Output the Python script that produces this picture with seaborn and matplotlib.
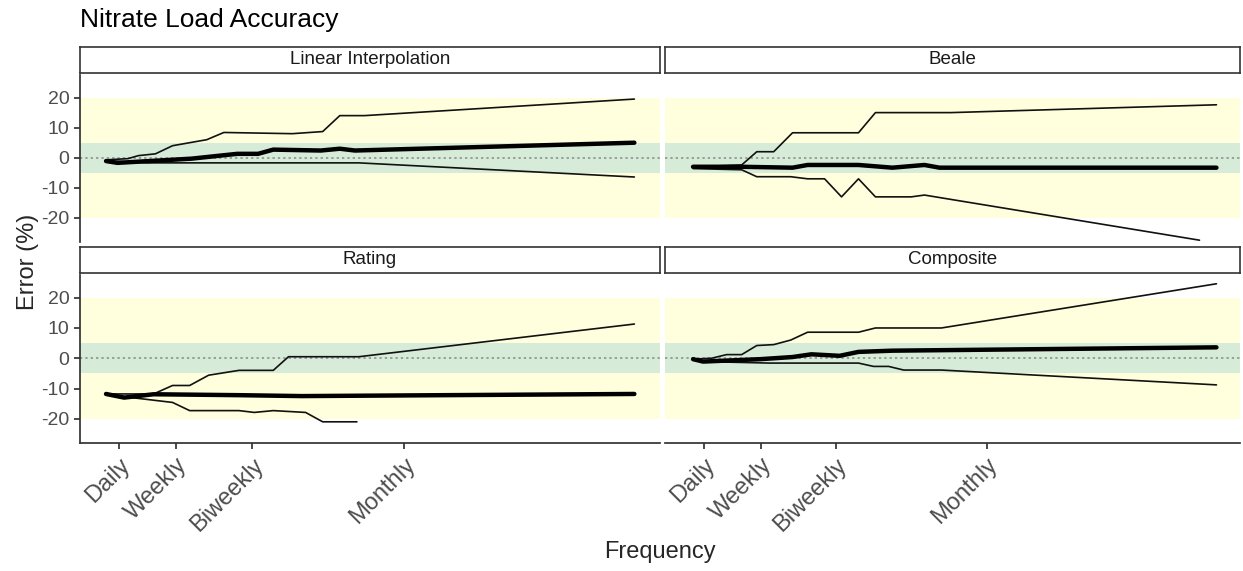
import matplotlib
matplotlib.use("Agg")
import matplotlib.pyplot as plt
import seaborn as sns
import pandas as pd

sns.set_theme(style="white")
plt.rcParams['font.family'] = ['Liberation Sans', 'DejaVu Sans']
plt.rcParams['axes.unicode_minus'] = False

panels = ["Linear Interpolation", "Beale", "Rating", "Composite"]
tick_pos = [1, 4, 8, 16]
tick_labels = ["Daily", "Weekly", "Biweekly", "Monthly"]

li_upper_x = [0.3, 1.45, 2.0, 2.9, 3.8, 5.6, 6.5, 10.1, 11.7, 12.6, 13.9, 28.1]
li_upper_y = [-0.7, -0.3, 0.7, 1.3, 4, 6, 8.4, 8, 8.7, 14, 14, 19.5]
li_mean_x = [0.3, 0.9, 4.8, 7.2, 8.3, 9.1, 11.6, 12.6, 13.4, 28.1]
li_mean_y = [-1.1, -1.7, -0.3, 1.3, 1.3, 2.7, 2.4, 3, 2.4, 5]
li_lower_x = [0.3, 2.5, 13.6, 28.1]
li_lower_y = [-1, -1.7, -1.7, -6.4]

be_upper_x = [0.42, 3, 3.8, 4.7, 5.7, 9.2, 10.1, 14.1, 28.2]
be_upper_y = [-3, -2.4, 2, 2, 8.3, 8.3, 15, 15, 17.6]
be_mean_x = [0.42, 2.97, 5.7, 6.5, 9.2, 11, 12.7, 13.5, 28.2]
be_mean_y = [-3, -3, -3.3, -2.4, -2.4, -3.3, -2.4, -3.3, -3.3]
be_lower_x = [0.42, 3, 3.8, 5.6, 6.5, 7.4, 8.3, 9.2, 10.1, 12, 12.7, 27.3]
be_lower_y = [-3.6, -4, -6.3, -6.3, -7, -7, -13, -7, -13, -13, -12.4, -27.4]

ra_upper_x = [0.3, 2.8, 3.8, 4.7, 5.7, 7.3, 9.1, 9.9, 13.6, 28.1]
ra_upper_y = [-11.8, -11.8, -9, -9, -5.6, -4, -4, 0.5, 0.5, 11.3]
ra_mean_x = [0.3, 1.25, 2.8, 7.3, 10.6, 28.1]
ra_mean_y = [-11.8, -13, -11.9, -12.2, -12.5, -11.8]
ra_lower_x = [0.3, 3.8, 4.7, 7.3, 8.1, 9.1, 10.8, 11.7, 13.5]
ra_lower_y = [-12, -14.6, -17.3, -17.3, -17.9, -17.3, -17.9, -21, -21]

co_upper_x = [0.42, 1.4, 2.2, 3, 3.8, 4.7, 5.6, 6.5, 9.2, 10.1, 13.6, 28.2]
co_upper_y = [-0.3, 0, 1.2, 1.2, 4.2, 4.5, 6, 8.6, 8.6, 10, 10, 24.6]
co_mean_x = [0.42, 0.95, 4, 5.7, 6.7, 8.2, 9.2, 11, 28.2]
co_mean_y = [-0.3, -1.1, -0.3, 0.4, 1.3, 0.8, 2.1, 2.5, 3.6]
co_lower_x = [0.42, 0.95, 4.5, 9.2, 10, 10.8, 11.6, 13.6, 28.2]
co_lower_y = [-0.3, -1.1, -1.6, -1.6, -2.7, -2.7, -3.9, -3.9, -8.8]

series = {
    "Linear Interpolation": [("upper", li_upper_x, li_upper_y), ("mean", li_mean_x, li_mean_y), ("lower", li_lower_x, li_lower_y)],
    "Beale": [("upper", be_upper_x, be_upper_y), ("mean", be_mean_x, be_mean_y), ("lower", be_lower_x, be_lower_y)],
    "Rating": [("upper", ra_upper_x, ra_upper_y), ("mean", ra_mean_x, ra_mean_y), ("lower", ra_lower_x, ra_lower_y)],
    "Composite": [("upper", co_upper_x, co_upper_y), ("mean", co_mean_x, co_mean_y), ("lower", co_lower_x, co_lower_y)],
}

W, H = 1243, 571
fig = plt.figure(figsize=(W / 100, H / 100), dpi=100)

cols = [(80, 660), (665, 1240)]
rows = [(47, 75, 242), (247, 275, 443)]
xlim = (-1.07, 29.45)
ylim = (-28, 27.5)

for i, name in enumerate(panels):
    r, c = divmod(i, 2)
    x0, x1 = cols[c]
    st, pt, pb = rows[r]
    ax = fig.add_axes([x0 / W, 1 - pb / H, (x1 - x0) / W, (pb - pt) / H])
    ax.set_xlim(*xlim)
    ax.set_ylim(*ylim)
    ax.axhspan(-20, 20, color="#FFFFDD", zorder=0, lw=0)
    ax.axhspan(-5, 5, color="#D6ECD8", zorder=0.5, lw=0)
    ax.axhline(0, color="#888888", ls=(0, (1.5, 2)), lw=1.1, zorder=1)
    rows_ = []
    for kind, xs, ys in series[name]:
        for xv, yv in zip(xs, ys):
            rows_.append({"x": xv, "y": yv, "kind": kind})
    df = pd.DataFrame(rows_)
    for kind, lw, col in [("upper", 1.2, "#111111"), ("lower", 1.2, "#111111"), ("mean", 3.2, "black")]:
        sub = df[df.kind == kind]
        sns.lineplot(data=sub, x="x", y="y", ax=ax, color=col, lw=lw,
                     sort=False, estimator=None, zorder=3)
    ax.set_xlabel("")
    ax.set_ylabel("")
    for s in ax.spines.values():
        s.set_visible(False)
    ax.set_yticks([-20, -10, 0, 10, 20])
    if c == 0:
        ax.spines["left"].set_visible(True)
        ax.spines["left"].set_color("#333333")
        ax.tick_params(axis="y", left=True, length=4, color="#333333", labelsize=14, labelcolor="#4d4d4d")
    else:
        ax.set_yticklabels([])
        ax.tick_params(axis="y", left=False)
    ax.set_xticks(tick_pos)
    if r == 1:
        ax.spines["bottom"].set_visible(True)
        ax.spines["bottom"].set_color("#333333")
        ax.set_xticklabels(tick_labels, rotation=45, ha="right", rotation_mode="anchor",
                           fontsize=17, color="#4d4d4d")
        ax.tick_params(axis="x", bottom=True, length=4, color="#333333", pad=4)
    else:
        ax.set_xticklabels([])
        ax.tick_params(axis="x", bottom=False)
    sax = fig.add_axes([x0 / W, 1 - (pt - 2) / H, (x1 - x0) / W, (pt - 2 - st) / H])
    sax.set_xticks([]); sax.set_yticks([])
    sax.set_facecolor("white")
    for s in sax.spines.values():
        s.set_color("#333333"); s.set_linewidth(1.2)
    sax.text(0.5, 0.5, name, ha="center", va="center", fontsize=13.5, color="#1a1a1a",
             transform=sax.transAxes)

fig.text(80 / W, 1 - 20 / H, "Nitrate Load Accuracy", fontsize=19, va="center", ha="left", color="black")
fig.text(28 / W, 1 - 262 / H, "Error (%)", rotation=90, fontsize=17, va="center", ha="center")
fig.text(660 / W, 1 - 552 / H, "Frequency", fontsize=17, va="center", ha="center")

fig.savefig("out.png", dpi=100)
